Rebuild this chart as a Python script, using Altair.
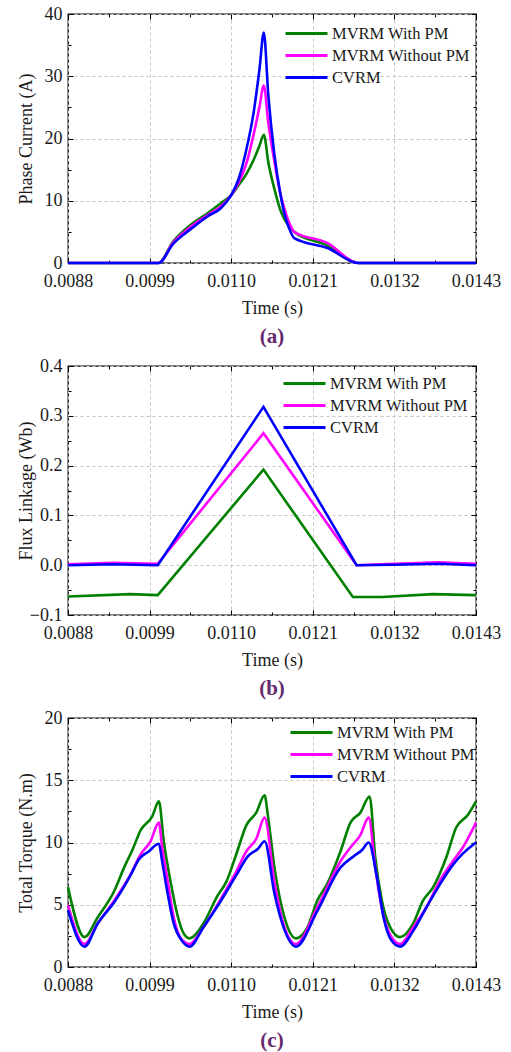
import altair as alt
import pandas as pd

FONT = "Liberation Serif"
SERIES = ["MVRM With PM", "MVRM Without PM", "CVRM"]
COLORS = ["#008000", "#ff00ff", "#0000ff"]
X_TICKS = [0.0088, 0.0099, 0.0110, 0.0121, 0.0132, 0.0143]
X_MINOR = [0.00935, 0.01045, 0.01155, 0.01265, 0.01375]

# ---------- (a) Phase current ----------
A_T = [0.0088, 0.01002, 0.01022, 0.01045, 0.01068, 0.01086, 0.01100, 0.01110,
       0.01120, 0.01130, 0.01138, 0.01144, 0.01150, 0.01158, 0.01166, 0.01172,
       0.01178, 0.01185, 0.01230, 0.01271, 0.0143]
A_GREEN = [0, 0, 3.5, 6.1, 8.0, 9.6, 10.9, 12.5, 14.2, 16.5, 18.8, 20.6,
           16.2, 12.0, 8.6, 7.0, 5.9, 5.0, 2.8, 0, 0]
A_MAGENTA = [0, 0, 3.3, 5.8, 7.7, 9.1, 10.9, 12.9, 15.8, 20.5, 25.0, 28.5,
             22.5, 16.5, 11.3, 8.6, 6.5, 5.0, 3.2, 0, 0]
A_BLUE = [0, 0, 3.1, 5.4, 7.5, 8.8, 10.9, 13.5, 18.0, 24.0, 31.0, 37.0,
          27.0, 17.6, 11.3, 7.8, 5.6, 4.0, 2.4, 0, 0]

# ---------- (b) Flux linkage ----------
B_T_GREEN = [0.0088, 0.00964, 0.01001, 0.011435, 0.01264, 0.01304, 0.01372, 0.0143]
B_GREEN = [-0.063, -0.058, -0.060, 0.192, -0.064, -0.064, -0.058, -0.060]
B_T_OTHER = [0.0088, 0.0094, 0.01001, 0.011435, 0.01269, 0.0132, 0.0138, 0.0143]
B_MAGENTA = [0.002, 0.005, 0.003, 0.265, 0.0, 0.003, 0.006, 0.003]
B_BLUE = [0.0, 0.002, 0.0, 0.318, 0.0, 0.001, 0.003, 0.0]

# ---------- (c) Total torque ----------
C_T_GREEN = [0.008800, 0.009023, 0.009201, 0.009423, 0.009557, 0.009668, 0.009780,
             0.009936, 0.010025, 0.010091, 0.010181, 0.010270, 0.010359, 0.010439,
             0.010626, 0.010804, 0.010938, 0.011071, 0.011205, 0.011338, 0.011450,
             0.011494, 0.011583, 0.011717, 0.011873, 0.012029, 0.012162, 0.012296,
             0.012474, 0.012608, 0.012741, 0.012866, 0.012942, 0.013031, 0.013142,
             0.013276, 0.013454, 0.013587, 0.013721, 0.013899, 0.014033, 0.014189,
             0.014300]
C_GREEN = [6.4, 2.4, 4.0, 6.1, 8.0, 9.4, 11.0, 12.1, 13.3, 10.1, 6.9, 4.3, 2.7, 2.3,
           3.5, 5.6, 6.9, 9.1, 11.4, 12.4, 13.8, 12.2, 8.0, 4.0, 2.3, 3.2, 5.35, 6.7,
           9.3, 11.6, 12.4, 13.7, 8.8, 5.35, 3.2, 2.4, 3.5, 5.35, 6.4, 8.8, 11.2, 12.2,
           13.3]
C_T_MAGENTA = [0.008800, 0.009023, 0.009201, 0.009423, 0.009646, 0.009780, 0.009913,
               0.010025, 0.010069, 0.010136, 0.010225, 0.010336, 0.010439, 0.010626,
               0.010849, 0.011071, 0.011205, 0.011338, 0.011450, 0.011583, 0.011717,
               0.011873, 0.012162, 0.012474, 0.012608, 0.012741, 0.012853, 0.012942,
               0.013031, 0.013142, 0.013276, 0.013454, 0.013632, 0.013810, 0.013988,
               0.014122, 0.014300]
C_MAGENTA = [4.95, 1.85, 3.5, 5.35, 7.47, 9.06, 10.1, 11.6, 9.6, 7.2, 4.0, 2.17, 1.85,
             3.2, 5.35, 7.7, 9.3, 10.3, 12.0, 6.8, 3.2, 1.85, 4.8, 8.5, 9.6, 10.6, 12.0,
             8.0, 4.7, 2.6, 1.85, 3.2, 4.8, 6.9, 8.5, 9.6, 11.6]
C_T_BLUE = [0.008800, 0.009023, 0.009201, 0.009423, 0.009646, 0.009757, 0.009891,
            0.010025, 0.010069, 0.010136, 0.010225, 0.010336, 0.010439, 0.010626,
            0.010849, 0.011071, 0.011227, 0.011361, 0.011450, 0.011583, 0.011717,
            0.011873, 0.012162, 0.012474, 0.012652, 0.012764, 0.012853, 0.012964,
            0.013053, 0.013164, 0.013276, 0.013454, 0.013632, 0.013810, 0.013988,
            0.014122, 0.014300]
C_BLUE = [4.56, 1.64, 3.5, 5.2, 7.4, 8.66, 9.3, 9.9, 8.5, 6.15, 3.5, 2.1, 1.64, 3.2,
          5.2, 7.4, 8.9, 9.5, 10.1, 5.9, 3.0, 1.64, 4.5, 8.0, 8.9, 9.4, 10.0, 7.2, 4.0,
          2.1, 1.64, 2.9, 4.8, 6.6, 8.2, 9.1, 10.0]


def make_df(parts):
    rows = []
    for name, ts, vs in parts:
        for t, v in zip(ts, vs):
            rows.append({"t": t, "v": v, "s": name})
    return pd.DataFrame(rows)


W, H = 408, 249
TXT = "#1a1a1a"


def tick_axis(orient, values, size):
    return alt.Axis(orient=orient, values=values, offset=-size, tickSize=size,
                    ticks=True, labels=False, domain=False, grid=False, title=None,
                    tickColor="#000", tickWidth=1)


def panel(df, ydom, yticks, yminor, ytitle, yfmt, caption, leg_x, leg_y, interp):
    xs = alt.Scale(domain=[0.0088, 0.0143], nice=False, zero=False)
    ys = alt.Scale(domain=ydom, nice=False, zero=False)
    main = alt.Chart(df).mark_line(strokeWidth=2.6, interpolate=interp).encode(
        x=alt.X("t:Q", scale=xs, axis=alt.Axis(
            values=X_TICKS, format=".4f", title="Time (s)", ticks=False, domain=False,
            grid=True, gridDash=[3, 3], gridColor="#c4c4c4", gridWidth=1,
            labelPadding=9, titlePadding=9, labelFontSize=18, titleFontSize=18,
            labelFont=FONT, titleFont=FONT, labelColor=TXT, titleColor=TXT,
            titleFontWeight="normal", labelFlush=False)),
        y=alt.Y("v:Q", scale=ys, axis=alt.Axis(
            values=yticks, format=yfmt, title=ytitle, ticks=False, domain=False,
            grid=True, gridDash=[3, 3], gridColor="#c4c4c4", gridWidth=1,
            labelPadding=6, labelFontSize=18, titleFontSize=18, labelFont=FONT,
            titleFont=FONT, labelColor=TXT, titleColor=TXT, titleFontWeight="normal",
            titleX=-33, labelFlush=False)),
        color=alt.Color("s:N", sort=SERIES,
                        scale=alt.Scale(domain=SERIES, range=COLORS),
                        legend=alt.Legend(title=None, orient="none", legendX=leg_x,
                                          legendY=leg_y, symbolType="M-2.1,0H2.1",
                                          symbolSize=400, symbolStrokeWidth=3,
                                          labelFontSize=16.5, labelFont=FONT,
                                          labelColor=TXT, labelOffset=14,
                                          rowPadding=2)),
    )
    base = alt.Chart(df).mark_point(opacity=0)
    l2 = base.encode(x=alt.X("t:Q", scale=xs, axis=tick_axis("bottom", X_TICKS, 5)),
                     y=alt.Y("v:Q", scale=ys, axis=tick_axis("left", yticks, 5)))
    l3 = base.encode(x=alt.X("t:Q", scale=xs, axis=tick_axis("top", X_TICKS, 5)),
                     y=alt.Y("v:Q", scale=ys, axis=tick_axis("right", yticks, 5)))
    l4 = base.encode(x=alt.X("t:Q", scale=xs, axis=tick_axis("bottom", X_MINOR, 3)),
                     y=alt.Y("v:Q", scale=ys, axis=tick_axis("left", yminor, 3)))
    l5 = base.encode(x=alt.X("t:Q", scale=xs, axis=tick_axis("top", X_MINOR, 3)),
                     y=alt.Y("v:Q", scale=ys, axis=tick_axis("right", yminor, 3)))
    return alt.layer(main, l2, l3, l4, l5).resolve_axis(
        x="independent", y="independent"
    ).properties(
        width=W, height=H,
        title=alt.TitleParams(text=caption, orient="bottom", anchor="middle",
                              font=FONT, fontSize=21, fontWeight="bold",
                              color="#662a6e", offset=9),
    )


df_a = make_df([(SERIES[0], A_T, A_GREEN), (SERIES[1], A_T, A_MAGENTA),
                (SERIES[2], A_T, A_BLUE)])
df_b = make_df([(SERIES[0], B_T_GREEN, B_GREEN), (SERIES[1], B_T_OTHER, B_MAGENTA),
                (SERIES[2], B_T_OTHER, B_BLUE)])
df_c = make_df([(SERIES[0], C_T_GREEN, C_GREEN), (SERIES[1], C_T_MAGENTA, C_MAGENTA),
                (SERIES[2], C_T_BLUE, C_BLUE)])

pa = panel(df_a, [0, 40], [0, 10, 20, 30, 40], [5, 15, 25, 35],
           "Phase Current (A)", "d", "(a)", 227, 8, "monotone")
pb = panel(df_b, [-0.1, 0.4], [-0.1, 0.0, 0.1, 0.2, 0.3, 0.4],
           [-0.05, 0.05, 0.15, 0.25, 0.35], "Flux Linkage (Wb)", ".1f", "(b)",
           225, 6, "linear")
pc = panel(df_c, [0, 20], [0, 5, 10, 15, 20], [2.5, 7.5, 12.5, 17.5],
           "Total Torque (N.m)", "d", "(c)", 232, 3, "monotone")

chart = alt.vconcat(pa, pb, pc, spacing=8).resolve_scale(
    color="independent"
).properties(
    padding={"left": 16, "top": 4, "right": 5, "bottom": 5},
    background="white",
).configure_view(stroke="#000", strokeWidth=1.3)

chart.save("out.html", embed_options={"renderer": "svg", "actions": False})
